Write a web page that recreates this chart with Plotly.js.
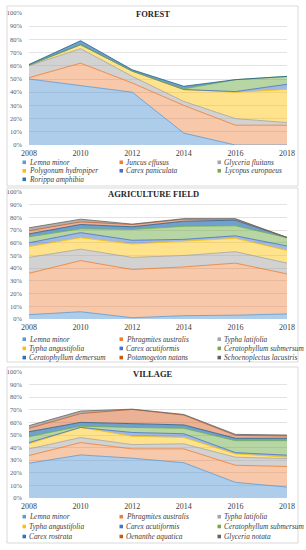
<!DOCTYPE html>
<html><head><meta charset="utf-8">
<script src="https://cdn.plot.ly/plotly-3.0.1.min.js"></script>
<style>html,body{margin:0;padding:0;background:#fff;}#chart{width:306px;height:550px;}</style>
</head><body><div id="chart"></div>
<script>
// ---------- DATA ----------
const years = [2008, 2010, 2012, 2014, 2016, 2018];

// Forest (% cover per species)
const forestNames = ["Lemna minor", "Juncus effusus", "Glyceria fluitans", "Polygonum hydropiper", "Carex paniculata", "Lycopus europaeus", "Rorippa amphibia"];
const forestLemna    = [50, 45, 40, 9, 0, 0];
const forestJuncus   = [1, 17, 7, 21, 15, 15];
const forestGlyceria = [9, 11, 5, 3, 5, 2];
const forestPolygon  = [0.5, 3, 4, 9, 20, 25];
const forestCarex    = [0, 0, 0, 0, 0.5, 4];
const forestLycopus  = [0, 0, 0, 0.5, 9, 6];
const forestRorippa  = [0.5, 3, 1, 2, 0, 0];

// Agriculture field
const agriNames = ["Lemna minor", "Phragmites australis", "Typha latifolia", "Typha angustifolia", "Carex acutiformis", "Ceratophyllum submersum", "Ceratophyllum demersum", "Potamogeton natans", "Schoenoplectus lacustris"];
const agriLemna      = [3.4, 5.7, 1, 2.6, 3, 4];
const agriPhragmites = [32.6, 40.3, 38, 38.4, 41, 31.5];
const agriTyphaLat   = [12.5, 9, 9.5, 9, 9, 8.5];
const agriTyphaAng   = [8.5, 9, 10.5, 11, 10.5, 10];
const agriCarex      = [3, 4, 3, 1.7, 2, 3.5];
const agriCerSub     = [4.7, 3, 8.5, 10.3, 7.9, 6.5];
const agriCerDem     = [2.3, 3.4, 2.1, 4, 4.4, 0.2];
const agriPotamogeton= [2.5, 2.1, 1.8, 1.6, 0.8, 0];
const agriSchoeno    = [2.3, 2.1, 0.3, 0.4, 0.4, 0];

// Village
const villNames = ["Lemna minor", "Phragmites australis", "Typha latifolia", "Typha angustifolia", "Carex acutiformis", "Ceratophyllum submersum", "Carex rostrata", "Oenanthe aquatica", "Glyceria notata"];
const villLemna      = [27.6, 34.2, 31.6, 28, 12.4, 8.7];
const villPhragmites = [6.1, 9.8, 7.4, 11, 13.6, 16.3];
const villTyphaLat   = [5.3, 4, 3.4, 4, 6.4, 6.3];
const villTyphaAng   = [4, 8, 6.6, 5, 2.6, 1.1];
const villCarex      = [1, 0, 3, 3, 1, 1.6];
const villCerSub     = [4.7, 1, 4, 4.3, 9.5, 11.5];
const villCarexRos   = [3.9, 3, 3, 2.7, 1.9, 1.9];
const villOenanthe   = [2.7, 7, 11.3, 7.8, 2.3, 1.8];
const villGlyceria   = [2.1, 2, 0.2, 0.5, 0.8, 0.8];

const yTicks = [0, 10, 20, 30, 40, 50, 60, 70, 80, 90, 100];
const panelTitles = ["FOREST", "AGRICULTURE FIELD", "VILLAGE"];

// ---------- STYLE ----------
const lineCols = ["#5B9BD5", "#ED7D31", "#A5A5A5", "#FFC000", "#4472C4", "#70AD47", "#255E91", "#C0602A", "#636363"];
const fillCols = ["rgba(91,155,213,0.5)", "rgba(237,125,49,0.42)", "rgba(165,165,165,0.5)", "rgba(255,192,0,0.45)",
                  "rgba(68,114,196,0.5)", "rgba(112,173,71,0.5)", "rgba(50,120,185,0.7)", "rgba(215,105,50,0.52)", "rgba(99,99,99,0.5)"];
const legendCols = ["#5B9BD5", "#ED7D31", "#A5A5A5", "#FFC000", "#4472C4", "#70AD47", "#2E75B6", "#C55A11", "#636363"];

const W = 306, H = 550;
const serif = "Liberation Serif, Times New Roman, serif";

const panels = [
  {names: forestNames, series: [forestLemna, forestJuncus, forestGlyceria, forestPolygon, forestCarex, forestLycopus, forestRorippa],
   colIdx: [0,1,2,3,4,5,6], top: 13, bot: 145, titleY: 14, rows: [162.3, 170.8, 179.3], box: [6, 186]},
  {names: agriNames, series: [agriLemna, agriPhragmites, agriTyphaLat, agriTyphaAng, agriCarex, agriCerSub, agriCerDem, agriPotamogeton, agriSchoeno],
   colIdx: [0,1,2,3,4,5,6,7,8], top: 192, bot: 319, titleY: 194, rows: [339.2, 348.4, 357.6], box: [188, 362]},
  {names: villNames, series: [villLemna, villPhragmites, villTyphaLat, villTyphaAng, villCarex, villCerSub, villCarexRos, villOenanthe, villGlyceria],
   colIdx: [0,1,2,3,4,5,6,7,8], top: 372, bot: 498, titleY: 374, rows: [516.7, 526.5, 536.5], box: [367, 543]}
];

const traces = [];
const layout = {
  width: W, height: H, margin: {l: 0, r: 0, t: 0, b: 0},
  paper_bgcolor: "#fff", plot_bgcolor: "rgba(0,0,0,0)", showlegend: false,
  annotations: [], shapes: []
};

const xLeft = 29, xRight = 287;
const legendTextX = [28, 125, 223];

panels.forEach((p, pi) => {
  const n = pi === 0 ? "" : String(pi + 1);
  const xa = "x" + n, ya = "y" + n;
  layout.shapes.push({type: "rect", xref: "paper", yref: "paper", x0: 7 / W, x1: 298 / W,
    y0: 1 - p.box[1] / H, y1: 1 - p.box[0] / H, line: {color: "#D9D9D9", width: 1}, fillcolor: "rgba(0,0,0,0)", layer: "below"});
  p.series.forEach((vals, si) => {
    const c = p.colIdx[si];
    traces.push({
      type: "scatter", mode: "lines", x: years, y: vals, name: p.names[si],
      xaxis: xa, yaxis: ya, stackgroup: "s" + pi,
      line: {color: lineCols[c], width: 0.8}, fillcolor: fillCols[c], hoverinfo: "skip"
    });
  });
  layout["xaxis" + n] = {
    domain: [xLeft / W, xRight / W], range: [2008, 2018], anchor: ya,
    tickvals: years, ticktext: years.map(String), showgrid: false, zeroline: false, showline: false,
    tickfont: {family: serif, size: 8, color: "#404040"}, ticks: "", ticklabelstandoff: 2, fixedrange: true
  };
  layout["yaxis" + n] = {
    domain: [1 - p.bot / H, 1 - p.top / H], range: [0, 100], anchor: xa,
    tickvals: yTicks, ticktext: yTicks.map(v => v + "%"), showgrid: true, gridcolor: "#E3E3E3", gridwidth: 1,
    zeroline: false, showline: false, ticks: "", ticklabelstandoff: 6,
    tickfont: {family: serif, size: 6.5, color: "#595959"}, fixedrange: true
  };
  layout.annotations.push({text: "<b>" + panelTitles[pi] + "</b>", xref: "paper", yref: "paper",
    x: 153 / W, y: 1 - p.titleY / H, xanchor: "center", yanchor: "middle", showarrow: false,
    font: {family: serif, size: 8.5, color: "#262626"}});
  p.names.forEach((nm, si) => {
    const col = si % 3, row = Math.floor(si / 3);
    const tx = legendTextX[col], ty = p.rows[row];
    layout.shapes.push({type: "rect", xref: "paper", yref: "paper",
      x0: (tx - 5.5) / W, x1: (tx - 2) / W, y0: 1 - (ty + 1.8) / H, y1: 1 - (ty - 1.8) / H,
      fillcolor: legendCols[p.colIdx[si]], line: {width: 0}});
    layout.annotations.push({text: "<i>" + nm + "</i>", xref: "paper", yref: "paper",
      x: (tx - 1) / W, y: 1 - ty / H, xanchor: "left", yanchor: "middle", showarrow: false,
      font: {family: serif, size: 7.4, color: "#404040"}});
  });
});

Plotly.newPlot("chart", traces, layout, {staticPlot: true, displayModeBar: false});
</script>
</body></html>
